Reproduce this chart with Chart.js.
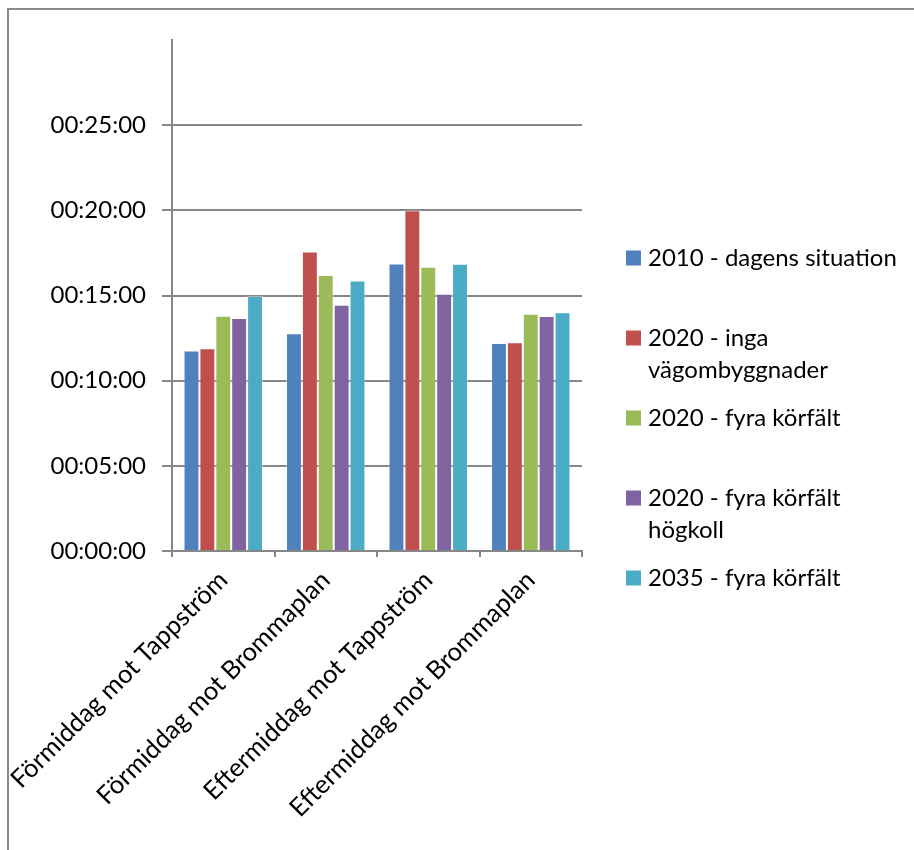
<!DOCTYPE html>
<html>
<head>
<meta charset="utf-8">
<script src="https://cdn.jsdelivr.net/npm/chart.js@4.4.1/dist/chart.umd.min.js"></script>
<style>
  html, body { margin: 0; padding: 0; background: #fff; }
  #wrap { width: 914px; height: 850px; }
</style>
</head>
<body>
<div id="wrap"><canvas id="c" width="914" height="850"></canvas></div>
<script>
// Restid per riktning och scenario, i sekunder (visas som tt:mm:ss)
const categories = [
  'Förmiddag mot Tappström',
  'Förmiddag mot Brommaplan',
  'Eftermiddag mot Tappström',
  'Eftermiddag mot Brommaplan'
];
const seriesNames = [
  '2010 - dagens situation',
  '2020 - inga vägombyggnader',
  '2020 - fyra körfält',
  '2020 - fyra körfält högkoll',
  '2035 - fyra körfält'
];
const s2010 = [706, 767, 1013, 733];
const s2020inga = [714, 1055, 1200, 735];
const s2020fyra = [829, 972, 1001, 836];
const s2020hogkoll = [821, 867, 906, 828];
const s2035fyra = [898, 953, 1012, 841];
const seriesColors = ['#4F81BD', '#C0504D', '#9BBB59', '#8064A2', '#4BACC6'];
// Axelsteg: 0 till 30 minuter i steg om 5 minuter
const yMax = 1800;
const yStep = 300;

const FONT = 'Lato, "Open Sans", sans-serif';
const FONT_SIZE = 24;
const X_FONT_SIZE = 25.5;
const AXIS_GREY = '#878787';

function hms(sec) {
  const h = Math.floor(sec / 3600);
  const m = Math.floor((sec % 3600) / 60);
  const s = Math.round(sec % 60);
  const p = n => String(n).padStart(2, '0');
  return p(h) + ':' + p(m) + ':' + p(s);
}

const seriesValues = [s2010, s2020inga, s2020fyra, s2020hogkoll, s2035fyra];

// Ram runt diagrammet
const framePlugin = {
  id: 'frame',
  beforeDraw(chart) {
    const ctx = chart.ctx;
    ctx.save();
    ctx.strokeStyle = '#8a8a8a';
    ctx.lineWidth = 2;
    ctx.beginPath();
    ctx.moveTo(8, chart.height + 2);
    ctx.lineTo(8, 9);
    ctx.lineTo(chart.width + 2, 9);
    ctx.stroke();
    ctx.restore();
  }
};

// Förklaring till höger med radbrytning
const sideLegend = {
  id: 'sideLegend',
  afterDraw(chart) {
    const ctx = chart.ctx;
    ctx.save();
    ctx.font = FONT_SIZE + 'px ' + FONT;
    ctx.textBaseline = 'middle';
    const x0 = 626, box = 15, textX = 648, maxW = 262;
    const top = 258, slot = 80, lineH = 32;
    chart.data.datasets.forEach((ds, i) => {
      const y = top + slot * i;
      ctx.fillStyle = ds.backgroundColor;
      ctx.fillRect(x0, y - box / 2, box, box);
      // radbrytning på ordgränser
      const words = ds.label.split(' ');
      const lines = [];
      let cur = '';
      words.forEach(w => {
        const t = cur ? cur + ' ' + w : w;
        if (ctx.measureText(t).width > maxW && cur) { lines.push(cur); cur = w; }
        else cur = t;
      });
      lines.push(cur);
      ctx.fillStyle = '#000';
      lines.forEach((ln, k) => ctx.fillText(ln, textX, y + k * lineH));
    });
    ctx.restore();
  }
};

new Chart(document.getElementById('c'), {
  type: 'bar',
  data: {
    labels: categories,
    datasets: seriesNames.map((name, i) => ({
      label: name,
      data: seriesValues[i],
      backgroundColor: seriesColors[i],
      borderColor: 'rgba(255,255,255,0.35)',
      borderWidth: 1,
      categoryPercentage: 0.775,
      barPercentage: 1.0
    }))
  },
  options: {
    responsive: false,
    animation: false,
    devicePixelRatio: 1,
    layout: { padding: { left: 0, top: 40, right: 332, bottom: 0 } },
    plugins: {
      legend: { display: false },
      tooltip: { enabled: false }
    },
    scales: {
      y: {
        min: 0,
        max: yMax,
        afterFit(scale) { scale.width = 172; },
        ticks: {
          stepSize: yStep,
          padding: 16,
          color: '#000',
          font: { family: FONT, size: FONT_SIZE },
          callback: v => (v >= yMax ? '' : hms(v))
        },
        grid: {
          color: ctx => (ctx.tick && ctx.tick.value >= yMax ? 'rgba(0,0,0,0)' : AXIS_GREY),
          lineWidth: 2,
          tickLength: 10,
          drawTicks: true
        },
        border: { display: true, color: AXIS_GREY, width: 2 }
      },
      x: {
        afterFit(scale) {
          scale.height = 850 - 551;
          // lutande etiketter får sticka ut åt vänster utan att flytta ritytan
          scale.paddingLeft = 0;
          scale.paddingRight = 0;
        },
        ticks: {
          minRotation: 45,
          maxRotation: 45,
          autoSkip: false,
          padding: 8,
          color: '#000',
          font: { family: FONT, size: X_FONT_SIZE }
        },
        grid: {
          offset: true,
          drawOnChartArea: false,
          drawTicks: true,
          tickLength: 6,
          color: AXIS_GREY,
          lineWidth: 2
        },
        border: { display: true, color: AXIS_GREY, width: 2 }
      }
    }
  },
  plugins: [framePlugin, sideLegend]
});
</script>
</body>
</html>
